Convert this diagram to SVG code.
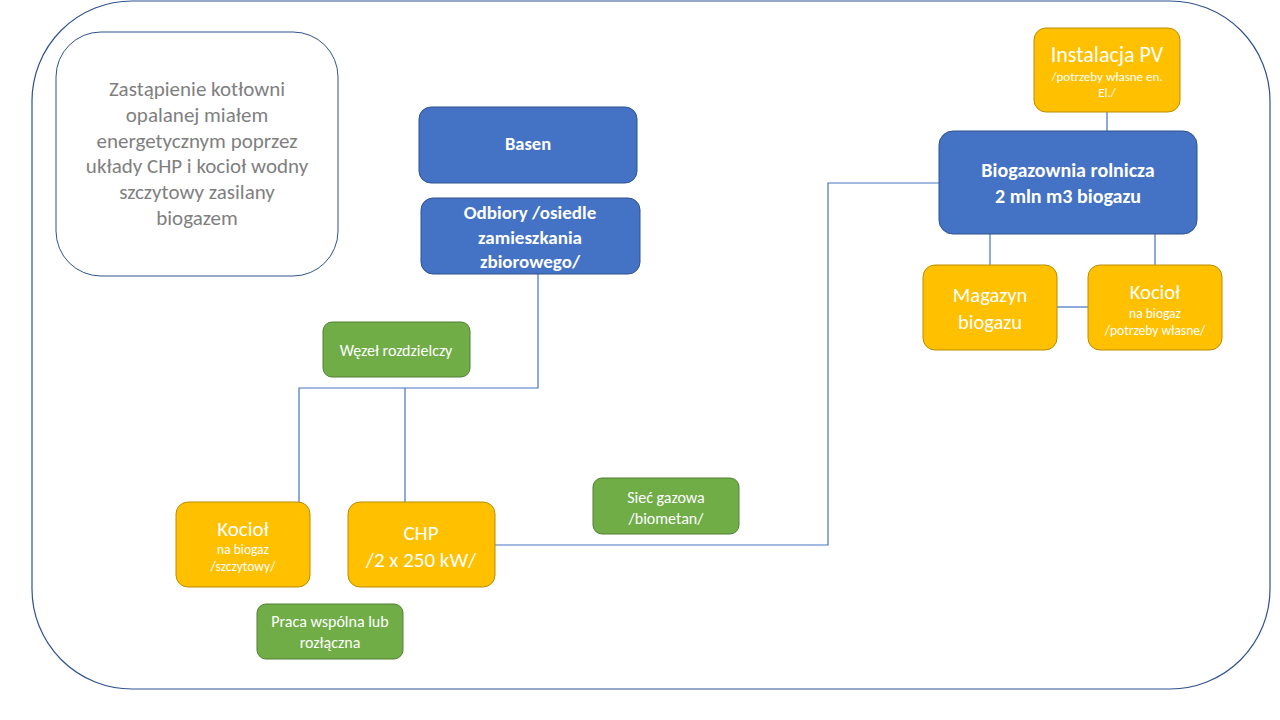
<svg xmlns="http://www.w3.org/2000/svg" width="1280" height="720" viewBox="0 0 1280 720">
<style>
text{font-family:Calibri,Carlito,"Liberation Sans",sans-serif;text-anchor:middle;fill:#fff}
.blue{fill:#4472c4;stroke:#2f528f;stroke-width:1}
.orange{fill:#ffc000;stroke:#bc8c00;stroke-width:1}
.green{fill:#70ad47;stroke:#507e32;stroke-width:1}
.b{font-weight:bold}
.conn line,.conn polyline{stroke:#4472c4;stroke-width:1.2;fill:none}
</style>
<rect width="1280" height="720" fill="#fff"/>
<rect x="32" y="1" width="1238" height="688" rx="100" ry="100" fill="none" stroke="#2f528f" stroke-width="1.2"/>
<g class="conn">
<polyline points="538,274 538,388 299,388 299,502"/>
<line x1="405" y1="388" x2="405" y2="502"/>
<polyline points="495,545 828,545 828,183 939,183"/>
<line x1="1107" y1="112" x2="1107" y2="131"/>
<line x1="990" y1="234" x2="990" y2="265"/>
<line x1="1155" y1="234" x2="1155" y2="265"/>
<line x1="1057" y1="307" x2="1088" y2="307"/>
</g>
<g id="opis">
<rect x="56" y="32" width="282" height="244" rx="45" fill="#fff" stroke="#2f528f" stroke-width="1"/>
<text style="fill:#7f7f7f;font-size:21px"><tspan x="197" y="96">Zastąpienie kotłowni</tspan><tspan x="197" y="122">opalanej miałem</tspan><tspan x="197" y="148">energetycznym poprzez</tspan><tspan x="197" y="173">układy CHP i kocioł wodny</tspan><tspan x="197" y="199">szczytowy zasilany</tspan><tspan x="197" y="225">biogazem</tspan></text>
</g>
<g id="basen">
<rect class="blue" x="419" y="107" width="218" height="76" rx="12"/>
<text class="b" x="528" y="150" style="font-size:18.5px">Basen</text>
</g>
<g id="odbiory">
<rect class="blue" x="421" y="198" width="219" height="76" rx="12"/>
<text class="b" style="font-size:19px"><tspan x="530" y="219">Odbiory /osiedle</tspan><tspan x="530" y="244">zamieszkania</tspan><tspan x="530" y="268">zbiorowego/</tspan></text>
</g>
<g id="pv">
<rect class="orange" x="1034" y="28" width="146" height="84" rx="12"/>
<text x="1107" y="62" style="font-size:22px">Instalacja PV</text>
<text style="font-size:13px"><tspan x="1107" y="81">/potrzeby własne en.</tspan><tspan x="1107" y="97">El./</tspan></text>
</g>
<g id="biogazownia">
<rect class="blue" x="939" y="131" width="258" height="103" rx="14"/>
<text class="b" style="font-size:20px"><tspan x="1068" y="177">Biogazownia rolnicza</tspan><tspan x="1068" y="203">2 mln m3 biogazu</tspan></text>
</g>
<g id="magazyn">
<rect class="orange" x="923" y="265" width="134" height="85" rx="12"/>
<text style="font-size:20.5px"><tspan x="990" y="302">Magazyn</tspan><tspan x="990" y="329">biogazu</tspan></text>
</g>
<g id="kociol-wlasne">
<rect class="orange" x="1088" y="265" width="134" height="85" rx="12"/>
<text x="1155" y="299" style="font-size:20.5px">Kocioł</text>
<text style="font-size:13.5px"><tspan x="1155" y="318">na biogaz</tspan><tspan x="1155" y="335">/potrzeby własne/</tspan></text>
</g>
<g id="wezel">
<rect class="green" x="323" y="322" width="147" height="55" rx="9"/>
<text x="396" y="356" style="font-size:16px">Węzeł rozdzielczy</text>
</g>
<g id="kociol-szczytowy">
<rect class="orange" x="176" y="502" width="134" height="85" rx="12"/>
<text x="243" y="536" style="font-size:21px">Kocioł</text>
<text style="font-size:13.5px"><tspan x="243" y="554">na biogaz</tspan><tspan x="243" y="571">/szczytowy/</tspan></text>
</g>
<g id="chp">
<rect class="orange" x="348" y="502" width="147" height="85" rx="12"/>
<text style="font-size:21px"><tspan x="421" y="540">CHP</tspan><tspan x="421" y="567">/2 x 250 kW/</tspan></text>
</g>
<g id="siec">
<rect class="green" x="593" y="478" width="146" height="56" rx="9"/>
<text style="font-size:16px"><tspan x="666" y="503">Sieć gazowa</tspan><tspan x="666" y="524">/biometan/</tspan></text>
</g>
<g id="praca">
<rect class="green" x="257" y="604" width="146" height="55" rx="9"/>
<text style="font-size:16px"><tspan x="330" y="627">Praca wspólna lub</tspan><tspan x="330" y="648">rozłączna</tspan></text>
</g>
</svg>
